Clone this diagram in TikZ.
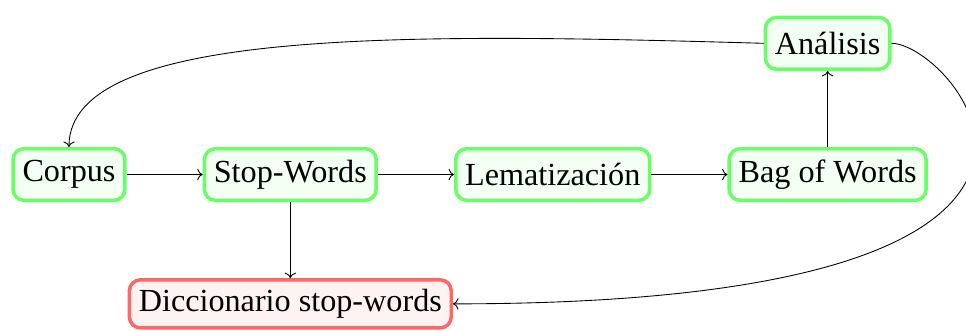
\documentclass[tikz,border=0pt]{standalone}
\usepackage{fontspec}
\setmainfont{Liberation Serif}
\usetikzlibrary{arrows.meta,positioning}
\tikzset{
  base/.style={font=\fontsize{14.7}{18}\selectfont, align=center, inner sep=4.3pt},
  block/.style={rectangle, draw=green!60, line width=1.6pt, rounded corners=5pt, minimum height=23.6pt, fill=green!5, base},
  dict/.style={rectangle, draw=red!60, line width=1.6pt, rounded corners=5pt, minimum height=21.4pt, fill=red!5, base},
  arrow/.style={-{To}, thin, color=black}
}

\begin{document}
\begin{tikzpicture}[x=0.4567pt, y=0.4567pt, node distance=1.22cm]
    \useasboundingbox (0,0) rectangle (966,330);

    \node[block] (corpus) at (69,155.5) {Corpus};
    \node[block, right=of corpus] (stopw) {Stop-Words};
    \node[block, right=of stopw] (lema) {Lematización};
    \node[block, right=of lema] (bow) {Bag of Words};
    \node[block, above=of bow] (analisis) {Análisis};
    \node[dict, below=of stopw] (dicc) {Diccionario stop-words};

    \draw[arrow] (corpus) -- (stopw);
    \draw[arrow] (stopw) -- (lema);
    \draw[arrow] (lema) -- (bow);
    \draw[arrow] (bow) -- (analisis);
    \draw[arrow] (stopw) -- (dicc);
    % lazos de vuelta
    \draw[arrow] (analisis.west) .. controls +(-350,10) and +(0,120) .. (corpus.north);
    \draw[arrow] (analisis.east) .. controls +(61,0) and +(732,0) .. (dicc.east);
\end{tikzpicture}
\end{document}
